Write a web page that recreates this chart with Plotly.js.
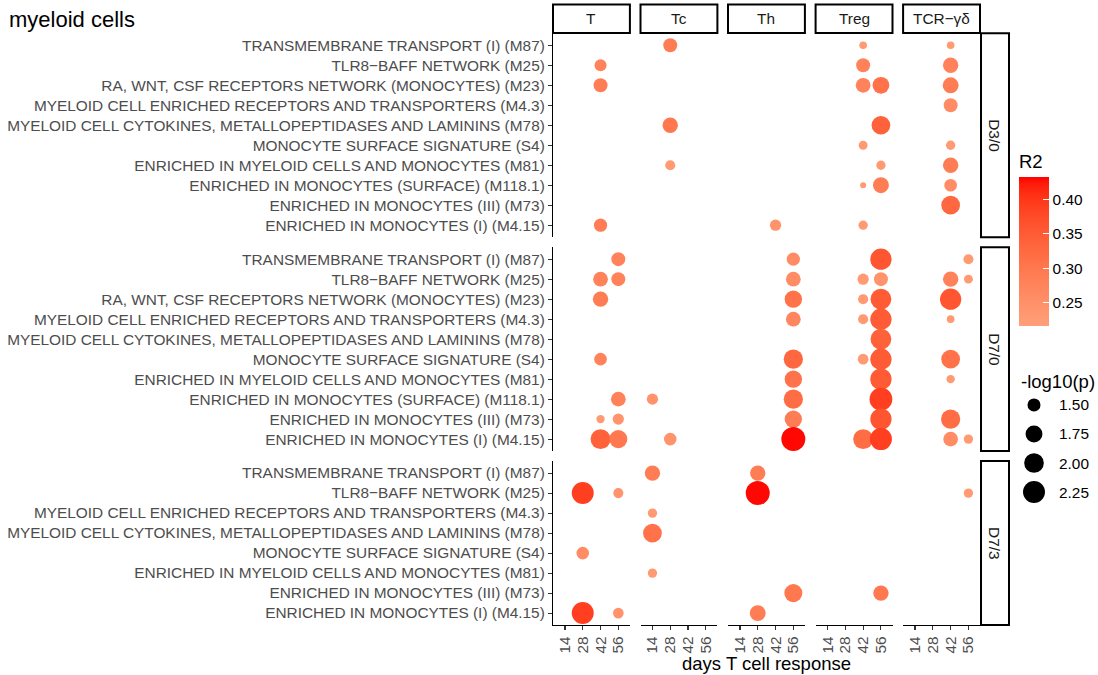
<!DOCTYPE html>
<html><head><meta charset="utf-8">
<script src="https://cdn.plot.ly/plotly-3.0.1.min.js"></script>
<style>html,body{margin:0;padding:0;background:#fff}#chart{width:1098px;height:675px}</style>
</head><body><div id="chart"></div>
<script>
// ---------- data ----------
const cellTypes = ["T", "Tc", "Th", "Treg", "TCR−γδ"];
const contrasts = ["D3/0", "D7/0", "D7/3"];
const dayTicks = [14, 28, 42, 56];
const moduleCodes = ["M87","M25","M23","M4.3","M78","S4","M81","M118.1","M73","M4.15"];
const moduleLabels = [
  "TRANSMEMBRANE TRANSPORT (I) (M87)",
  "TLR8−BAFF NETWORK (M25)",
  "RA, WNT, CSF RECEPTORS NETWORK (MONOCYTES) (M23)",
  "MYELOID CELL ENRICHED RECEPTORS AND TRANSPORTERS (M4.3)",
  "MYELOID CELL CYTOKINES, METALLOPEPTIDASES AND LAMININS (M78)",
  "MONOCYTE SURFACE SIGNATURE (S4)",
  "ENRICHED IN MYELOID CELLS AND MONOCYTES (M81)",
  "ENRICHED IN MONOCYTES (SURFACE) (M118.1)",
  "ENRICHED IN MONOCYTES (III) (M73)",
  "ENRICHED IN MONOCYTES (I) (M4.15)"
];
const modulesByContrast = [
  ["M87","M25","M23","M4.3","M78","S4","M81","M118.1","M73","M4.15"],
  ["M87","M25","M23","M4.3","M78","S4","M81","M118.1","M73","M4.15"],
  ["M87","M25","M4.3","M78","S4","M81","M73","M4.15"]
];

const pt_contrast = [
  "D3/0","D3/0","D3/0","D3/0","D3/0","D3/0","D3/0","D3/0","D3/0","D3/0","D3/0","D3/0","D3/0",
  "D3/0","D3/0","D3/0","D3/0","D3/0","D3/0","D3/0","D3/0","D3/0","D3/0","D3/0","D3/0",
  "D7/0","D7/0","D7/0","D7/0","D7/0","D7/0","D7/0","D7/0","D7/0","D7/0","D7/0","D7/0","D7/0","D7/0","D7/0","D7/0",
  "D7/0","D7/0","D7/0","D7/0","D7/0","D7/0","D7/0","D7/0","D7/0","D7/0","D7/0","D7/0","D7/0","D7/0","D7/0","D7/0",
  "D7/0","D7/0","D7/0","D7/0","D7/0","D7/0","D7/0","D7/0","D7/0","D7/0","D7/0","D7/0","D7/0","D7/0",
  "D7/3","D7/3","D7/3","D7/3","D7/3","D7/3","D7/3","D7/3","D7/3","D7/3","D7/3","D7/3","D7/3","D7/3","D7/3"
];
const pt_cell = [
  "Tc","Treg","TCR−γδ","T","Treg","TCR−γδ","T","Treg","Treg","TCR−γδ","TCR−γδ","Tc","Treg",
  "Treg","TCR−γδ","Tc","Treg","TCR−γδ","Treg","Treg","TCR−γδ","TCR−γδ","T","Th","Treg",
  "T","Th","Treg","TCR−γδ", "T","T","Th","Treg","Treg","TCR−γδ","TCR−γδ", "T","Th","Treg","Treg","TCR−γδ",
  "Th","Treg","Treg","TCR−γδ", "Treg", "T","Th","Treg","Treg","TCR−γδ", "Th","Treg","TCR−γδ",
  "T","Tc","Th","Treg", "T","T","Th","Treg","TCR−γδ", "T","T","Tc","Th","Treg","Treg","TCR−γδ","TCR−γδ",
  "Tc","Th","T","T","Th","TCR−γδ","Tc","Tc","T","Tc","Th","Treg","T","T","Th"
];
const pt_day = [
  28,42,42, 42,42,42, 42,42,56,42, 42, 28,56,
  42,42, 28,56,42, 42,56,42, 42, 42,42,42,
  56,56,56,56, 42,56,56,42,56,42,56, 42,56,42,56,42,
  56,42,56,42, 56, 42,56,42,56,42, 56,56,42,
  56,14,56,56, 42,56,56,56,42, 42,56,28,56,42,56,42,56,
  14,28,28,56,28,56,14,14,28,14,56,56,28,56,28
];
const pt_module = [
  "M87","M87","M87","M25","M25","M25","M23","M23","M23","M23","M4.3","M78","M78",
  "S4","S4","M81","M81","M81","M118.1","M118.1","M118.1","M73","M4.15","M4.15","M4.15",
  "M87","M87","M87","M87","M25","M25","M25","M25","M25","M25","M25","M23","M23","M23","M23","M23",
  "M4.3","M4.3","M4.3","M4.3","M78","S4","S4","S4","S4","S4","M81","M81","M81",
  "M118.1","M118.1","M118.1","M118.1","M73","M73","M73","M73","M73",
  "M4.15","M4.15","M4.15","M4.15","M4.15","M4.15","M4.15","M4.15",
  "M87","M87","M25","M25","M25","M25","M4.3","M78","S4","M81","M73","M73","M4.15","M4.15","M4.15"
];
const pt_r2 = [
  0.29,0.23,0.23, 0.28,0.28,0.28, 0.29,0.28,0.31,0.29, 0.26, 0.30,0.34,
  0.23,0.23, 0.23,0.23,0.29, 0.23,0.29,0.26, 0.33, 0.29,0.245,0.23,
  0.28,0.26,0.36,0.23, 0.28,0.28,0.26,0.23,0.245,0.28,0.23, 0.29,0.31,0.23,0.35,0.36,
  0.27,0.23,0.35,0.23, 0.34, 0.28,0.33,0.23,0.35,0.31, 0.31,0.35,0.23,
  0.28,0.245,0.32,0.39, 0.23,0.245,0.29,0.36,0.32, 0.34,0.30,0.245,0.43,0.32,0.39,0.26,0.23,
  0.29,0.29,0.39,0.245,0.43,0.23,0.23,0.31,0.26,0.23,0.30,0.30,0.39,0.245,0.29
];
const pt_logp = [
  1.55,1.33,1.33, 1.45,1.55,1.64, 1.55,1.60,1.74,1.68, 1.55, 1.64,1.91,
  1.35,1.36, 1.38,1.36,1.64, 1.32,1.68,1.48, 1.91, 1.51,1.42,1.36,
  1.55,1.51,2.17,1.38, 1.60,1.55,1.60,1.42,1.55,1.64,1.35, 1.64,1.79,1.38,2.11,2.17,
  1.60,1.38,2.17,1.33, 2.11, 1.48,1.96,1.40,2.17,1.91, 1.79,2.17,1.34,
  1.60,1.42,1.96,2.34, 1.34,1.42,1.79,2.17,1.96, 2.03,1.85,1.48,2.50,2.03,2.25,1.60,1.36,
  1.64,1.64,2.25,1.38,2.50,1.36,1.36,1.91,1.48,1.36,1.85,1.64,2.25,1.40,1.68
];
const r2Limits = [0.217, 0.4325];
const r2Breaks = [0.25, 0.30, 0.35, 0.40];
const logpLimits = [1.32, 2.50];
const logpBreaks = [1.50, 1.75, 2.00, 2.25];

// ---------- scales ----------
const W = 1098, H = 675;
const colX = [553, 640.5, 728, 815.6, 903.1], colW = 76.9;
const rowY = [[33.3, 237.2], [247.2, 451.1], [461.1, 625.1]];
const xRange = [4.6, 65.1];
const FONT = "Liberation Sans, Arial, Helvetica, sans-serif";
const SMALL = 15.4, BIG = 18.5;

function sizeFn(v) {
  const t = Math.max(0, Math.min(1, (v - logpLimits[0]) / (logpLimits[1] - logpLimits[0])));
  return 6 + 18 * Math.sqrt(t);
}
function s2l(c){c/=255;return c<=0.04045?c/12.92:Math.pow((c+0.055)/1.055,2.4);}
function l2s(c){const v=c<=0.0031308?12.92*c:1.055*Math.pow(c,1/2.4)-0.055;return Math.round(Math.max(0,Math.min(1,v))*255);}
function rgb2lab(rgb){const r=s2l(rgb[0]),g=s2l(rgb[1]),b=s2l(rgb[2]);
  const X=(0.4124*r+0.3576*g+0.1805*b)/0.95047,Y=0.2126*r+0.7152*g+0.0722*b,Z=(0.0193*r+0.1192*g+0.9505*b)/1.08883;
  const f=t=>t>0.008856?Math.cbrt(t):7.787*t+16/116;const fx=f(X),fy=f(Y),fz=f(Z);
  return [116*fy-16,500*(fx-fy),200*(fy-fz)];}
function lab2rgb(lab){const fy=(lab[0]+16)/116,fx=fy+lab[1]/500,fz=fy-lab[2]/200;
  const fi=t=>t*t*t>0.008856?t*t*t:(t-16/116)/7.787;
  const X=fi(fx)*0.95047,Y=fi(fy),Z=fi(fz)*1.08883;
  const r=3.2406*X-1.5372*Y-0.4986*Z,g=-0.9689*X+1.8758*Y+0.0415*Z,b=0.0557*X-0.2040*Y+1.0570*Z;
  return "rgb("+l2s(r)+","+l2s(g)+","+l2s(b)+")";}
const lowLab = rgb2lab([255,160,122]), highLab = rgb2lab([255,0,0]);
const colorscale = [];
for (let i = 0; i <= 20; i++) {
  const t = i / 20;
  colorscale.push([t, lab2rgb([0,1,2].map(k => lowLab[k] + (highLab[k] - lowLab[k]) * t))]);
}

// ---------- traces & axes ----------
const traces = [], layout = {
  width: W, height: H, margin: {l:0, r:0, t:0, b:0},
  paper_bgcolor: "#fff", plot_bgcolor: "rgba(0,0,0,0)",
  font: {family: FONT, color: "#000"},
  showlegend: false,
  title: {text: "myeloid cells", x: 9/W, xanchor: "left", xref: "paper", y: 1 - 19/H, yanchor: "middle", yref: "paper",
          font: {size: 22, color: "#000", family: FONT}},
  coloraxis: {
    cmin: r2Limits[0], cmax: r2Limits[1], colorscale: colorscale,
    colorbar: {
      thickness: 30, thicknessmode: "pixels", len: 175, lenmode: "pixels",
      x: 1019/W, xanchor: "left", y: 1 - 325.7/H, yanchor: "bottom", xpad: 0, ypad: 0,
      outlinewidth: 0, ticks: "inside", ticklen: 6, tickcolor: "#fff", tickwidth: 1,
      tickvals: r2Breaks, ticktext: r2Breaks.map(v => v.toFixed(2)),
      tickfont: {size: SMALL, color: "#000", family: FONT},
      title: {text: "R2", side: "top", font: {size: BIG, color: "#000", family: FONT}}
    }
  },
  shapes: [], annotations: []
};

contrasts.forEach((con, r) => {
  const mods = modulesByContrast[r];
  const n = mods.length;
  cellTypes.forEach((cell, c) => {
    const i = r * 5 + c + 1;
    const xn = "x" + (i > 1 ? i : ""), yn = "y" + (i > 1 ? i : "");
    const xs = [], ys = [], cs = [], ss = [];
    pt_contrast.forEach((pc, k) => {
      if (pc === con && pt_cell[k] === cell) {
        xs.push(pt_day[k]); ys.push(mods.indexOf(pt_module[k]));
        cs.push(pt_r2[k]); ss.push(sizeFn(pt_logp[k]));
      }
    });
    traces.push({
      type: "scatter", mode: "markers", x: xs, y: ys, xaxis: xn, yaxis: yn,
      marker: {color: cs, coloraxis: "coloraxis", size: ss, sizemode: "diameter", line: {width: 0}, opacity: 1},
      hoverinfo: "skip", cliponaxis: false
    });
    layout["xaxis" + (i > 1 ? i : "")] = {
      domain: [colX[c]/W, (colX[c] + colW)/W], range: xRange, anchor: yn,
      showgrid: false, zeroline: false, showline: r === 2, linecolor: "#000", linewidth: 1.1,
      ticks: r === 2 ? "outside" : "", tickvals: dayTicks, ticktext: dayTicks.map(String),
      ticklen: 4, tickwidth: 1.1, tickcolor: "#333", tickangle: -90,
      showticklabels: r === 2, tickfont: {size: SMALL, color: "#4D4D4D", family: FONT},
      fixedrange: true, automargin: false
    };
    layout["yaxis" + (i > 1 ? i : "")] = {
      domain: [1 - rowY[r][1]/H, 1 - rowY[r][0]/H], range: [n - 0.4, -0.6], anchor: xn,
      showgrid: false, zeroline: false, showline: c === 0, linecolor: "#000", linewidth: 1.1,
      ticks: c === 0 ? "outside" : "", tickvals: mods.map((m, j) => j),
      ticktext: mods.map(m => moduleLabels[moduleCodes.indexOf(m)]),
      ticklen: 4, tickwidth: 1.1, tickcolor: "#333",
      showticklabels: c === 0, tickfont: {size: SMALL, color: "#4D4D4D", family: FONT},
      fixedrange: true, automargin: false
    };
  });
  // row strip
  layout.shapes.push({type: "rect", xref: "paper", yref: "paper",
    x0: 981/W, x1: 1009/W, y0: 1 - rowY[r][1]/H, y1: 1 - rowY[r][0]/H,
    line: {color: "#000", width: 2}, fillcolor: "#fff"});
  layout.annotations.push({xref: "paper", yref: "paper", x: 995/W, y: 1 - (rowY[r][0] + rowY[r][1])/2/H,
    text: con, showarrow: false, textangle: 90, xanchor: "center", yanchor: "middle",
    font: {size: SMALL, color: "#1A1A1A", family: FONT}});
});

// column strips
cellTypes.forEach((cell, c) => {
  layout.shapes.push({type: "rect", xref: "paper", yref: "paper",
    x0: colX[c]/W, x1: (colX[c] + colW)/W, y0: 1 - 33/H, y1: 1 - 4.5/H,
    line: {color: "#000", width: 2}, fillcolor: "#fff"});
  layout.annotations.push({xref: "paper", yref: "paper", x: (colX[c] + colW/2)/W, y: 1 - 18.8/H,
    text: cell, showarrow: false, xanchor: "center", yanchor: "middle",
    font: {size: SMALL, color: "#1A1A1A", family: FONT}});
});

// x axis title
layout.annotations.push({xref: "paper", yref: "paper", x: 766.5/W, y: 1 - 663/H,
  text: "days T cell response", showarrow: false, xanchor: "center", yanchor: "middle",
  font: {size: BIG, color: "#000", family: FONT}});

// size legend
layout.xaxis16 = {domain: [1019/W, 1], range: [-15, 64], visible: false, fixedrange: true, anchor: "y16"};
layout.yaxis16 = {domain: [1 - 502/H, 1 - 395/H], range: [2.336, 1.414], visible: false, fixedrange: true, anchor: "x16"};
traces.push({type: "scatter", mode: "markers", x: logpBreaks.map(() => 0), y: logpBreaks,
  xaxis: "x16", yaxis: "y16", hoverinfo: "skip", cliponaxis: false,
  marker: {color: "#000", size: logpBreaks.map(sizeFn), sizemode: "diameter", line: {width: 0}, opacity: 1}});
logpBreaks.forEach(b => layout.annotations.push({xref: "x16", yref: "y16", x: 23, y: b,
  text: b.toFixed(2), showarrow: false, xanchor: "left", yanchor: "middle",
  font: {size: SMALL, color: "#000", family: FONT}}));
layout.annotations.push({xref: "paper", yref: "paper", x: 1019/W, y: 1 - 381/H,
  text: "-log10(p)", showarrow: false, xanchor: "left", yanchor: "middle",
  font: {size: BIG, color: "#000", family: FONT}});

Plotly.newPlot("chart", traces, layout, {staticPlot: true, displayModeBar: false});
</script>
</body></html>
